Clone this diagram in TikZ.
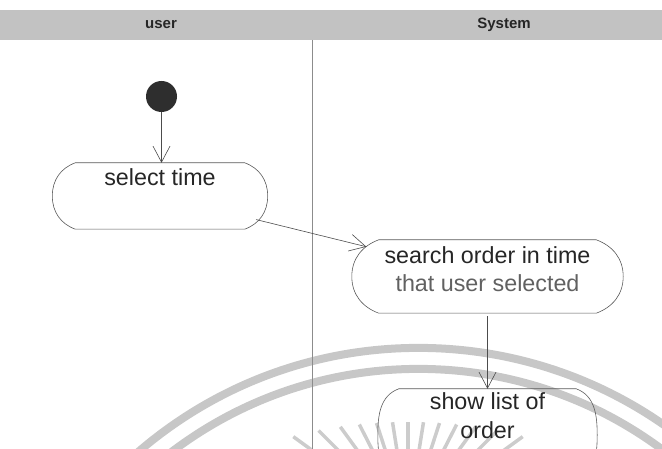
\documentclass[tikz,border=0pt]{standalone}
\usepackage{fontspec}
\setmainfont{Liberation Sans}
\usetikzlibrary{arrows.meta}
\tikzset{
  wm/.style={draw=black!22, line width=8pt},
  ray/.style={draw=black!20, line width=3.5pt},
  lane/.style={draw=black!45, line width=0.6pt},
  band/.style={fill=black!24},
  hdr/.style={font=\fontsize{15}{18}\selectfont\bfseries, text=black!85},
  act/.style={rectangle, inner sep=0pt, font=\fontsize{23.3}{28.4}\selectfont, text=black!85},
  actline/.style={draw=black!65, line width=0.6pt},
  flow/.style={draw=black!70, line width=0.6pt, -{Straight Barb[length=16pt,width=17pt]}},
  startnode/.style={circle, fill=black!82, minimum size=31pt, inner sep=0pt},
}
\newcommand\actoutline[2]{%
  \draw[actline] ([xshift=#2]#1.north west) -- ([xshift=-#2]#1.north east)
    to[out=-20,in=90] (#1.east) to[out=-90,in=20] ([xshift=-#2]#1.south east)
    -- ([xshift=#2]#1.south west) to[out=160,in=-90] (#1.west)
    to[out=90,in=200] ([xshift=#2]#1.north west) -- cycle;}
\begin{document}
\begin{tikzpicture}[x=1pt,y=1pt]
\useasboundingbox (0,0) rectangle (662,449);
\clip (0,0) rectangle (662,449);
% watermark of the scan
\draw[wm] (418.5,-328.4) circle[radius=429.5];
\draw[wm] (418.5,-328.4) circle[radius=408.5];
\foreach \a in {36,45,...,144}{
  \pgfmathsetmacro\rr{100*2.1364/sqrt((0.98*cos(\a))^2+(2.18*sin(\a))^2)}
  \draw[ray] (408,-71) ++(\a:40) -- ++(\a:\rr-40);
}
% header band
\fill[band] (0,409) rectangle (662,439);
\node[hdr] (hu) at (161,424) {user};
\node[hdr] (hs) at (504,424) {System};
% swimlane divider
\draw[lane] (312,409) -- (312,0);
% nodes
\node[startnode] (start) at (161.5,352.5) {};
\node[act, minimum width=215pt, text height=23pt, text depth=43pt] (sel) at (160,253) {select time};
\node[act, minimum width=271pt, text height=23.3pt, text depth=49.7pt] (srch) at (487.5,172.5)
  {\begin{tabular}[t]{@{}c@{}}search order in time\\\color{black!62}that user selected\end{tabular}};
\node[act, minimum width=219pt, text height=21pt, text depth=71pt] (show) at (487.5,14)
  {\begin{tabular}[t]{@{}c@{}}show list of\\order\end{tabular}};
\actoutline{sel}{23}
\actoutline{srch}{27}
\actoutline{show}{21}
% connectors
\draw[flow] (start) -- (start |- sel.north);
\draw[flow, shorten <=-12pt, shorten >=-15pt] (sel) -- (srch);
\draw[flow, shorten <=3pt] (srch) -- (show);
\end{tikzpicture}
\end{document}
